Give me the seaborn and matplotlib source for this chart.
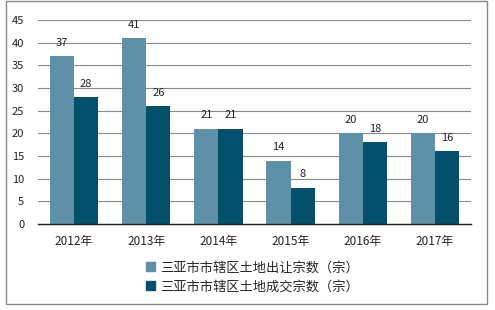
import matplotlib
matplotlib.use("Agg")
import matplotlib.pyplot as plt
import seaborn as sns
import pandas as pd
from matplotlib.patches import Rectangle

years = ["2012年", "2013年", "2014年", "2015年", "2016年", "2017年"]
series_names = ["三亚市市辖区土地出让宗数（宗）", "三亚市市辖区土地成交宗数（宗）"]
transfer = [37, 41, 21, 14, 20, 20]
deal = [28, 26, 21, 8, 18, 16]
yticks = [0, 5, 10, 15, 20, 25, 30, 35, 40, 45]

df = pd.DataFrame({
    "year": years * 2,
    "series": [series_names[0]] * len(years) + [series_names[1]] * len(years),
    "value": transfer + deal,
})

sns.set_theme(style="white")
plt.rcParams["font.family"] = ["Noto Sans CJK SC", "DejaVu Sans"]

fig = plt.figure(figsize=(4.95, 3.1), dpi=100)
ax = fig.add_axes([0.0768, 0.2774, 0.8747, 0.6581])

palette = {series_names[0]: "#5E91A8", series_names[1]: "#02506B"}
sns.barplot(data=df, x="year", y="value", hue="series", palette=palette,
            width=0.67, saturation=1, ax=ax, edgecolor="none")

for c in ax.containers:
    ax.bar_label(c, padding=6, fontsize=8, color="#222222")

ax.set_ylim(0, 45)
ax.set_yticks(yticks)
ax.yaxis.grid(True, color="#8a8a8a", linewidth=0.8)
ax.set_axisbelow(True)
for s in ["top", "right", "left"]:
    ax.spines[s].set_visible(False)
ax.spines["bottom"].set_color("#222222")
ax.spines["bottom"].set_linewidth(1)
ax.tick_params(axis="both", length=0, labelsize=8, colors="#222222")
ax.tick_params(axis="x", labelsize=8.5, pad=8)
ax.tick_params(axis="y", pad=10)
ax.set_xlabel("")
ax.set_ylabel("")

ax.legend_.remove()
handles = [Rectangle((0, 0), 1, 1, color=palette[n]) for n in series_names]
fig.legend(handles, series_names, loc="center", bbox_to_anchor=(0.51, 0.105),
           ncol=1, frameon=False, fontsize=9.5, handlelength=0.7, handleheight=0.7,
           handletextpad=0.4, labelspacing=0.45)

fig.patches.append(Rectangle((6 / 495, 1 - 304 / 310), 481 / 495, 303 / 310,
                             transform=fig.transFigure, fill=False,
                             edgecolor="#8a8a8a", linewidth=1))

fig.savefig("out.png", dpi=100)
